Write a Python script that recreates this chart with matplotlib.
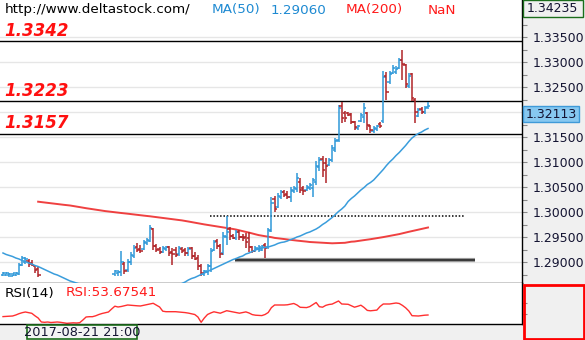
import numpy as np
import matplotlib
matplotlib.use("Agg")
import matplotlib.pyplot as plt
from matplotlib.patches import Rectangle
from matplotlib.ticker import FixedLocator, FormatStrFormatter, NullFormatter
from matplotlib.transforms import blended_transform_factory

# ---------------- data ----------------
open_ = [1.2874, 1.2875, 1.2874, 1.2873, 1.2874, 1.2876, 1.2894, 1.2900, 1.2902, 1.2898, 1.2892, 1.2886,
         1.2852, 1.2846, 1.2839, 1.2834, 1.2829, 1.2833, 1.2826, 1.2821, 1.2824, 1.2818, 1.2822, 1.2827,
         1.2830, 1.2825, 1.2832, 1.2838, 1.2841, 1.2836, 1.2843, 1.2846, 1.2849, 1.2847, 1.2852,
         1.2876, 1.2878, 1.2880, 1.2896, 1.2884, 1.2900, 1.2912, 1.2930, 1.2926, 1.2926, 1.2938, 1.2942,
         1.2966, 1.2932, 1.2926, 1.2920, 1.2926, 1.2930, 1.2920, 1.2924, 1.2916, 1.2926, 1.2924, 1.2918,
         1.2928, 1.2912, 1.2908, 1.2892, 1.2876, 1.2880, 1.2892, 1.2924, 1.2942, 1.2932, 1.2918, 1.2950,
         1.2966, 1.2952, 1.2948, 1.2960, 1.2950, 1.2950, 1.2948, 1.2930, 1.2922, 1.2926, 1.2924, 1.2934,
         1.2930, 1.2962, 1.3026, 1.3010, 1.3030, 1.3040, 1.3036, 1.3030, 1.3042, 1.3046, 1.3060, 1.3048,
         1.3044, 1.3048, 1.3048, 1.3060, 1.3090, 1.3106, 1.3098, 1.3094, 1.3104, 1.3124, 1.3144, 1.3212,
         1.3198, 1.3198, 1.3196, 1.3180, 1.3168, 1.3182, 1.3190, 1.3198, 1.3172, 1.3162, 1.3166, 1.3176,
         1.3182, 1.3272, 1.3260, 1.3278, 1.3280, 1.3288, 1.3304, 1.3294, 1.3252, 1.3276, 1.3224, 1.3192,
         1.3206, 1.3200, 1.3210]
high = [1.2880, 1.2880, 1.2879, 1.2879, 1.2880, 1.2898, 1.2912, 1.2910, 1.2906, 1.2904, 1.2894, 1.2890,
        1.2855, 1.2850, 1.2843, 1.2838, 1.2836, 1.2835, 1.2830, 1.2827, 1.2826, 1.2825, 1.2829, 1.2833,
        1.2832, 1.2834, 1.2840, 1.2843, 1.2844, 1.2845, 1.2848, 1.2851, 1.2852, 1.2854, 1.2855,
        1.2884, 1.2884, 1.2922, 1.2900, 1.2906, 1.2920, 1.2934, 1.2938, 1.2934, 1.2944, 1.2948, 1.2974,
        1.2968, 1.2936, 1.2930, 1.2932, 1.2932, 1.2932, 1.2928, 1.2930, 1.2932, 1.2930, 1.2928, 1.2930,
        1.2930, 1.2920, 1.2914, 1.2896, 1.2884, 1.2896, 1.2928, 1.2944, 1.2946, 1.2936, 1.2960, 1.2992,
        1.2970, 1.2956, 1.2964, 1.2964, 1.2956, 1.2958, 1.2960, 1.2932, 1.2932, 1.2934, 1.2934, 1.2938,
        1.2968, 1.3030, 1.3032, 1.3038, 1.3044, 1.3044, 1.3042, 1.3050, 1.3052, 1.3078, 1.3068, 1.3052,
        1.3054, 1.3058, 1.3068, 1.3102, 1.3110, 1.3112, 1.3108, 1.3108, 1.3134, 1.3148, 1.3214, 1.3220,
        1.3202, 1.3200, 1.3198, 1.3182, 1.3174, 1.3198, 1.3218, 1.3200, 1.3174, 1.3172, 1.3174, 1.3180,
        1.3282, 1.3280, 1.3282, 1.3294, 1.3292, 1.3308, 1.3324, 1.3296, 1.3278, 1.3278, 1.3228, 1.3208,
        1.3210, 1.3212, 1.3220]
low = [1.2872, 1.2872, 1.2871, 1.2872, 1.2872, 1.2874, 1.2892, 1.2896, 1.2890, 1.2892, 1.2878, 1.2870,
       1.2843, 1.2836, 1.2830, 1.2826, 1.2825, 1.2822, 1.2818, 1.2817, 1.2814, 1.2815, 1.2820, 1.2823,
       1.2821, 1.2823, 1.2830, 1.2834, 1.2832, 1.2834, 1.2839, 1.2842, 1.2843, 1.2845, 1.2847,
       1.2872, 1.2872, 1.2872, 1.2876, 1.2880, 1.2894, 1.2908, 1.2920, 1.2918, 1.2924, 1.2934, 1.2940,
       1.2924, 1.2920, 1.2916, 1.2918, 1.2922, 1.2912, 1.2894, 1.2910, 1.2912, 1.2918, 1.2912, 1.2912,
       1.2906, 1.2904, 1.2884, 1.2872, 1.2872, 1.2874, 1.2880, 1.2922, 1.2926, 1.2908, 1.2914, 1.2934,
       1.2944, 1.2946, 1.2944, 1.2944, 1.2942, 1.2928, 1.2920, 1.2918, 1.2920, 1.2920, 1.2922, 1.2908,
       1.2926, 1.2960, 1.3000, 1.3008, 1.3026, 1.3030, 1.3026, 1.3020, 1.3038, 1.3040, 1.3038, 1.3034,
       1.3042, 1.3044, 1.3030, 1.3054, 1.3082, 1.3070, 1.3058, 1.3092, 1.3100, 1.3120, 1.3140, 1.3178,
       1.3180, 1.3192, 1.3176, 1.3164, 1.3164, 1.3180, 1.3178, 1.3164, 1.3158, 1.3158, 1.3162, 1.3168,
       1.3178, 1.3224, 1.3256, 1.3276, 1.3276, 1.3286, 1.3264, 1.3248, 1.3248, 1.3222, 1.3178, 1.3190,
       1.3196, 1.3196, 1.3206]
close = [1.2878, 1.2879, 1.2877, 1.2878, 1.2878, 1.2894, 1.2908, 1.2907, 1.2896, 1.2894, 1.2884, 1.2874,
         1.2846, 1.2839, 1.2834, 1.2829, 1.2833, 1.2826, 1.2821, 1.2824, 1.2818, 1.2822, 1.2827, 1.2830,
         1.2825, 1.2832, 1.2838, 1.2841, 1.2836, 1.2843, 1.2846, 1.2849, 1.2847, 1.2852, 1.2853,
         1.2882, 1.2880, 1.2900, 1.2882, 1.2900, 1.2914, 1.2928, 1.2924, 1.2922, 1.2940, 1.2944, 1.2968,
         1.2932, 1.2924, 1.2920, 1.2928, 1.2930, 1.2918, 1.2916, 1.2914, 1.2928, 1.2922, 1.2918, 1.2926,
         1.2912, 1.2906, 1.2892, 1.2878, 1.2882, 1.2892, 1.2922, 1.2940, 1.2932, 1.2916, 1.2952, 1.2960,
         1.2952, 1.2948, 1.2960, 1.2950, 1.2948, 1.2940, 1.2930, 1.2922, 1.2928, 1.2930, 1.2932, 1.2928,
         1.2964, 1.3018, 1.3006, 1.3032, 1.3040, 1.3034, 1.3030, 1.3044, 1.3048, 1.3068, 1.3044, 1.3042,
         1.3050, 1.3054, 1.3064, 1.3092, 1.3104, 1.3084, 1.3092, 1.3104, 1.3128, 1.3142, 1.3208, 1.3188,
         1.3188, 1.3194, 1.3180, 1.3170, 1.3172, 1.3194, 1.3208, 1.3174, 1.3164, 1.3168, 1.3172, 1.3172,
         1.3270, 1.3240, 1.3276, 1.3288, 1.3286, 1.3304, 1.3296, 1.3256, 1.3272, 1.3228, 1.3200, 1.3204,
         1.3200, 1.3208, 1.32113]

ma50 = [1.2918, 1.2915, 1.2913, 1.2911, 1.2908, 1.2906, 1.2903, 1.2901, 1.2898, 1.2896, 1.2893, 1.2891,
        1.2888, 1.2885, 1.2882, 1.2879, 1.2876, 1.2874, 1.2871, 1.2868, 1.2865, 1.2862, 1.2860, 1.2858,
        1.2856, 1.2854, 1.2853, 1.2851, 1.2850, 1.2849, 1.2847, 1.2847, 1.2846, 1.2846, 1.2845, 1.2845,
        1.2844, 1.2844, 1.2844, 1.2844, 1.2844, 1.2844, 1.2844, 1.2844, 1.2845, 1.2845, 1.2846, 1.2847,
        1.2847, 1.2848, 1.2850, 1.2851, 1.2852, 1.2853, 1.2853, 1.2855, 1.2857, 1.2860, 1.2864, 1.2867,
        1.2869, 1.2872, 1.2875, 1.2878, 1.2881, 1.2884, 1.2887, 1.2890, 1.2893, 1.2896, 1.2899, 1.2902,
        1.2905, 1.2907, 1.2910, 1.2912, 1.2916, 1.2918, 1.2921, 1.2924, 1.2926, 1.2928, 1.2929, 1.2930,
        1.2932, 1.2934, 1.2937, 1.2939, 1.2940, 1.2942, 1.2945, 1.2947, 1.2950, 1.2952, 1.2955, 1.2958,
        1.2960, 1.2963, 1.2966, 1.2970, 1.2975, 1.2979, 1.2984, 1.2989, 1.2995, 1.3001, 1.3006, 1.3012,
        1.3021, 1.3027, 1.3032, 1.3038, 1.3044, 1.3049, 1.3055, 1.3059, 1.3064, 1.3071, 1.3078, 1.3085,
        1.3093, 1.3100, 1.3106, 1.3113, 1.3119, 1.3126, 1.3133, 1.3141, 1.3148, 1.3153, 1.3157, 1.3160,
        1.3164, 1.3167]

nan = float("nan")
ma200 = [nan] * 11 + [
    1.30206, 1.30198, 1.30190, 1.30182, 1.30174, 1.30168, 1.30160, 1.30152, 1.30144, 1.30138, 1.30130, 1.30120,
    1.30108, 1.30098, 1.30086, 1.30076, 1.30066, 1.30054, 1.30044, 1.30034, 1.30026, 1.30018, 1.30010, 1.30002,
    1.29996, 1.29988, 1.29980, 1.29974, 1.29966, 1.29958, 1.29950, 1.29944, 1.29936, 1.29928, 1.29922, 1.29914,
    1.29906, 1.29898, 1.29890, 1.29882, 1.29874, 1.29866, 1.29858, 1.29850, 1.29842, 1.29832, 1.29822, 1.29810,
    1.29798, 1.29786, 1.29776, 1.29764, 1.29752, 1.29742, 1.29732, 1.29724, 1.29714, 1.29704, 1.29694, 1.29684,
    1.29672, 1.29660, 1.29648, 1.29632, 1.29618, 1.29602, 1.29588, 1.29570, 1.29554, 1.29538, 1.29526, 1.29516,
    1.29506, 1.29496, 1.29482, 1.29474, 1.29468, 1.29460, 1.29450, 1.29442, 1.29436, 1.29428, 1.29422, 1.29414,
    1.29408, 1.29400, 1.29396, 1.29392, 1.29388, 1.29384, 1.29382, 1.29378, 1.29374, 1.29376, 1.29378, 1.29382,
    1.29384, 1.29394, 1.29406, 1.29410, 1.29420, 1.29428, 1.29438, 1.29446, 1.29456, 1.29466, 1.29474, 1.29486,
    1.29498, 1.29510, 1.29522, 1.29534, 1.29546, 1.29558, 1.29574, 1.29588, 1.29604, 1.29618, 1.29632, 1.29648,
    1.29662, 1.29676, 1.29690]

rsi = [50.92, 51.27, 51.61, 51.96, 53.68, 55.92, 57.65, 58.85, 57.65, 56.61, 52.30, 48.51,
       41.61, 41.09, 41.61, 40.75, 41.09, 41.61, 41.09, 40.23, 39.37, 39.89, 40.23, 39.89,
       40.41, 45.06, 50.23, 50.75, 50.75, 52.30, 54.54, 56.27, 57.47, 58.85, 64.02, 68.85,
       67.47, 68.33, 69.54, 70.92, 70.40, 69.89, 69.54, 69.20, 70.40, 71.61, 72.64, 73.85,
       70.57, 67.47, 60.23, 59.37, 59.37, 59.37, 59.37, 58.85, 58.34, 57.82, 56.96, 55.75,
       54.54, 50.23, 41.09, 48.51, 54.54, 57.13, 59.20, 57.99, 56.78, 58.85, 61.09, 60.06,
       58.85, 57.82, 56.78, 57.82, 59.02, 57.13, 54.37, 53.34, 52.99, 52.65, 54.54, 57.99,
       66.44, 70.92, 70.92, 70.92, 70.92, 71.27, 72.30, 73.51, 70.92, 66.96, 66.61, 66.44,
       68.16, 71.78, 75.23, 67.99, 67.13, 70.23, 71.78, 72.47, 75.23, 77.82, 72.64, 72.30,
       72.13, 69.54, 67.13, 68.68, 70.57, 66.61, 61.61, 60.92, 61.44, 62.13, 68.33, 72.64,
       72.64, 72.64, 73.51, 74.37, 73.51, 70.23, 66.09, 60.58, 52.47, 52.30, 51.96, 52.65,
       53.34, 53.67541]

levels = [1.3342, 1.3223, 1.3157]      # labelled horizontal levels
dotted_level = 1.2992
support_level = 1.2904
price_ticks = [1.290, 1.295, 1.300, 1.305, 1.310, 1.315, 1.320, 1.325, 1.330, 1.335]
scale_top = 1.34235
date_label = "2017-08-21 21:00"

# ---------------- layout ----------------
W, H = 585, 340
BG = "#f0f0f0"
UP = "#2f98d8"
DOWN = "#b02428"
MA50_C = "#3a9ddc"
MA200_C = "#ee2c2c"
GREEN = "#1c6e1c"
BAR_LW = 1.1

fig = plt.figure(figsize=(W / 100, H / 100), dpi=100, facecolor=BG)

main_bot, rsi_bot, right_px = 283.3, 324.0, 522.0
ax = fig.add_axes([0, 1 - main_bot / H, right_px / W, main_bot / H])
ax_r = fig.add_axes([0, 1 - rsi_bot / H, right_px / W, (rsi_bot - main_bot) / H])

o = np.array(open_); h = np.array(high); l = np.array(low); c = np.array(close)
n = len(c)
x = np.arange(n)
step = 425.0 / (n - 1)          # pixels per bar
xlim = (-3.0 / step, (right_px - 3.0) / step)
tick = 0.75

# OHLC bars
for mask, col in ((c >= o, UP), (c < o, DOWN)):
    xm = x[mask]
    ax.vlines(xm, l[mask], h[mask], colors=col, lw=BAR_LW, zorder=3)
    ax.hlines(o[mask], xm - tick, xm, colors=col, lw=BAR_LW, zorder=3)
    ax.hlines(c[mask], xm, xm + tick, colors=col, lw=BAR_LW, zorder=3)

ax.plot(x, ma50, color=MA50_C, lw=1.1, zorder=4)
ax.plot(x, ma200, color=MA200_C, lw=1.4, alpha=0.9, zorder=2)

for lvl in levels:
    ax.axhline(lvl, color="black", lw=1.0, zorder=2)
    ax.annotate(f"{lvl:.4f}", xy=(0, lvl), xycoords=("axes fraction", "data"),
                xytext=(4, 5), textcoords="offset pixels", va="baseline", ha="left",
                color="#ff1010", fontsize=12, fontweight="bold", fontstyle="italic")

ax.hlines(dotted_level, (210 - 3) / step, (465 - 3) / step, colors="black",
          linestyles=(0, (1, 1.2)), lw=1.1, zorder=2)
ax.hlines(support_level, (235 - 3) / step, (475 - 3) / step, colors="#9a9a9a", lw=3.0, zorder=2)
ax.hlines(support_level, (235 - 3) / step, (475 - 3) / step, colors="#303030", lw=1.3, zorder=2)

ax.set_xlim(*xlim)
ax.set_ylim(1.28574, 1.3424)
ax.set_facecolor("white")
ax.yaxis.tick_right()
last = c[-1]
# the level under the current-price marker keeps its tick but not its label
ax.yaxis.set_major_locator(FixedLocator([t for t in price_ticks if abs(t - last) > 0.002]))
ax.yaxis.set_minor_locator(FixedLocator(np.arange(1.2875, 1.3400, 0.0025)))
ax.yaxis.set_major_formatter(FormatStrFormatter("%.5f"))
ax.tick_params(axis="y", which="both", direction="out", length=3.6, width=0.8,
               color="#8a8a8a", pad=3.8, labelsize=9, labelcolor="#141432")
ax.tick_params(axis="x", which="both", bottom=False, labelbottom=False)
for t in price_ticks:
    ax.axhline(t, color="#e6e6e6", lw=1.0, zorder=0)
for side in ("left", "top"):
    ax.spines[side].set_visible(False)
for side in ("right", "bottom"):
    ax.spines[side].set_color("black")
    ax.spines[side].set_linewidth(1.0)

# current price marker on the scale
bt = blended_transform_factory(ax.transAxes, ax.transData)
box_h = 0.0032
ax.add_patch(Rectangle((523 / right_px, last - box_h), 56 / right_px, box_h, transform=bt,
                       facecolor="#86c8f0", edgecolor="#3f9ad8", lw=1.0, clip_on=False, zorder=6))
ax.text(551 / right_px, last - box_h / 2, f"{last:.5f}", transform=bt, ha="center", va="center",
        fontsize=9, color="#141432", clip_on=False, zorder=7)

# RSI panel
ax_r.plot(x, rsi, color="#ff3030", lw=1.0)
ax_r.set_xlim(*xlim)
ax_r.set_ylim(38.17, 108.3)
ax_r.set_facecolor("white")
ax_r.yaxis.tick_right()
ax_r.set_yticks([55, 75])
ax_r.yaxis.set_major_formatter(NullFormatter())
ax_r.tick_params(axis="y", direction="out", length=3.6, width=0.8, color="#8a8a8a")
ax_r.tick_params(axis="x", bottom=False, labelbottom=False)
for side in ("left", "top"):
    ax_r.spines[side].set_visible(False)
for side in ("right", "bottom"):
    ax_r.spines[side].set_color("black")
    ax_r.spines[side].set_linewidth(1.0)

# ---------------- text and frames in pixel positions ----------------
def fxp(px):
    return px / W

def fyp(py):
    return 1 - py / H

def px_rect(x0, y0, x1, y1, **kw):
    return Rectangle((fxp(x0), fyp(y1)), (x1 - x0) / W, (y1 - y0) / H,
                     transform=fig.transFigure, **kw)

hdr_y = fyp(10)
fig.text(fxp(5), hdr_y, "http://www.deltastock.com/", fontsize=9.7, color="black", va="center")
fig.text(fxp(212), hdr_y, "MA(50)", fontsize=9.7, color="#1e8ad2", va="center")
fig.text(fxp(271), hdr_y, "1.29060", fontsize=9.7, color="#1e8ad2", va="center")
fig.text(fxp(346), hdr_y, "MA(200)", fontsize=9.7, color="#ff1a1a", va="center")
fig.text(fxp(428), hdr_y, "NaN", fontsize=9.7, color="#ff1a1a", va="center")

rsi_y = fyp(293)
fig.text(fxp(5), rsi_y, "RSI(14)", fontsize=9.7, color="black", va="center")
fig.text(fxp(66), rsi_y, f"RSI:{rsi[-1]:.5f}", fontsize=9.7, color="#ff1a1a", va="center")

# top of scale box
fig.add_artist(px_rect(522.5, 0.5, 583, 16.5, facecolor=BG, edgecolor=GREEN, lw=1.0))
fig.text(fxp(552.5), fyp(8.7), f"{scale_top:.5f}", fontsize=9, color="#141432",
         ha="center", va="center")

# indicator scale box
fig.add_artist(px_rect(523.5, 284.5, 583.5, 338.5, facecolor="none", edgecolor="#ff0000", lw=2.0))

# time label box
fig.add_artist(px_rect(27, 324.8, 137, 339.3, facecolor="#f4f4f4", edgecolor=GREEN, lw=1.2))
fig.text(fxp(82), fyp(332.3), date_label, fontsize=9.3, color="#141432", ha="center", va="center")

fig.savefig("out.png", dpi=100, facecolor=BG)
